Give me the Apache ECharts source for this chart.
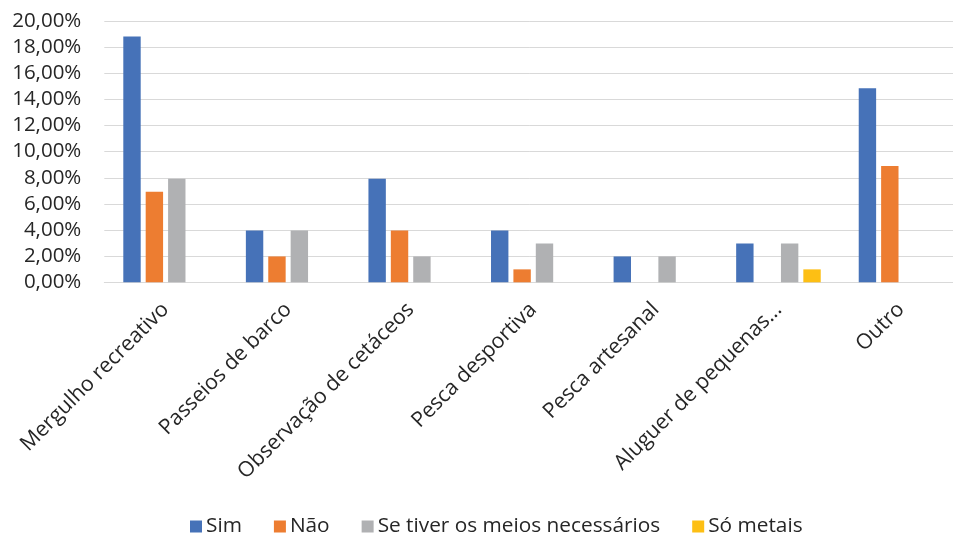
<!DOCTYPE html>
<html>
<head>
<meta charset="utf-8">
<script src="https://cdn.jsdelivr.net/npm/echarts@6/dist/echarts.min.js"></script>
<style>
  html, body { margin: 0; padding: 0; background: #fff; }
  #chart { width: 953px; height: 535px; }
</style>
</head>
<body>
<div id="chart"></div>
<script>
// Activities (category axis)
const categories = [
  'Mergulho recreativo',
  'Passeios de barco',
  'Observação de cetáceos',
  'Pesca desportiva',
  'Pesca artesanal',
  'Aluguer de pequenas...',
  'Outro'
];

// Share of answers per activity, in percent
const sim       = [18.81, 3.96, 7.92, 3.96, 1.98, 2.97, 14.85];
const nao       = [6.93, 1.98, 3.96, 0.99, 0, 0, 8.91];
const seTiver   = [7.92, 3.96, 1.98, 2.97, 1.98, 2.97, 0];
const soMetais  = [0, 0, 0, 0, 0, 0.99, 0];

const seriesNames = ['Sim', 'Não', 'Se tiver os meios necessários', 'Só metais'];
const seriesData = [sim, nao, seTiver, soMetais];
const colors = ['#4672b8', '#ed7d31', '#b0b1b3', '#fdbf14'];

const fontFamily = '"Open Sans", "Noto Sans", sans-serif';
const textColor = '#262626';

const fmtPct = v => v.toFixed(2).replace('.', ',') + '%';

const chart = echarts.init(document.getElementById('chart'), null, { renderer: 'canvas' });

chart.setOption({
  animation: false,
  color: colors,
  textStyle: { fontFamily: fontFamily, color: textColor },
  // plot area runs slightly past the right edge of the canvas
  grid: {
    left: 104.3, width: 858, top: 21, bottom: 252.7,
    containLabel: false,
    outerBoundsMode: 'none'
  },
  legend: {
    data: seriesNames,
    left: 185,
    top: 511,
    icon: 'rect',
    itemWidth: 12,
    itemHeight: 12,
    itemGap: 32,
    textStyle: { fontFamily: fontFamily, fontSize: 20.8, color: textColor, padding: [0, 0, 0, -1] }
  },
  xAxis: {
    type: 'category',
    data: categories,
    axisLine: { show: true, lineStyle: { color: '#d9d9d9', width: 1 } },
    axisTick: { show: false },
    axisLabel: {
      rotate: 45,
      margin: 24,
      interval: 0,
      fontFamily: fontFamily,
      fontSize: 21.2,
      color: textColor
    }
  },
  yAxis: {
    type: 'value',
    min: 0,
    max: 20,
    interval: 2,
    axisLine: { show: false },
    axisTick: { show: false },
    splitLine: { lineStyle: { color: '#d9d9d9', width: 1 } },
    axisLabel: {
      formatter: fmtPct,
      margin: 23,
      fontFamily: fontFamily,
      fontSize: 20.5,
      color: textColor
    }
  },
  series: seriesNames.map((name, i) => ({
    name: name,
    type: 'bar',
    data: seriesData[i],
    barGap: '28.7%',
    barCategoryGap: '31%',
    itemStyle: { color: colors[i] }
  }))
});
</script>
</body>
</html>
